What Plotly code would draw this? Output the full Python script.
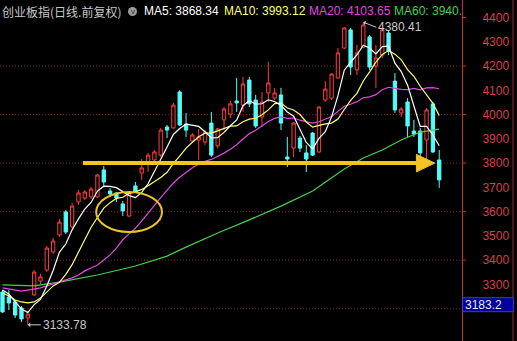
import plotly.graph_objects as go
import pandas as pd

# ---- data ----
opens = [3269, 3248, 3228, 3203, 3162, 3257, 3314, 3360, 3434, 3504,
         3599, 3537, 3640, 3656, 3661, 3661, 3772, 3685, 3677, 3632,
         3582, 3706, 3759, 3805, 3813, 3833, 3949, 3945, 4093, 3961,
         3891, 3895, 3887, 3965, 3871, 3978, 4002, 4056, 4039, 4142,
         4060, 3990, 4089, 4068, 4081, 3825, 3862, 3903, 3842, 3924,
         3846, 4060, 4068, 4151, 4274, 4349, 4184, 4278, 4320, 4200,
         4245, 4336, 4138, 4007, 4052, 3932, 3932, 3895, 4044, 3813]
highs = [3277, 3277, 3236, 3211, 3191, 3360, 3343, 3459, 3492, 3570,
         3607, 3636, 3689, 3689, 3702, 3755, 3788, 3698, 3681, 3644,
         3681, 3722, 3817, 3842, 3854, 3945, 3957, 4048, 4101, 4006,
         3924, 3941, 3936, 4011, 3945, 4031, 4056, 4151, 4155, 4155,
         4081, 4093, 4217, 4110, 4110, 3908, 3969, 3912, 3875, 3928,
         4035, 4138, 4171, 4274, 4361, 4357, 4287, 4380.41, 4328, 4287,
         4357, 4349, 4171, 4031, 4068, 3978, 3945, 4027, 4052, 3854]
lows = [3183, 3195, 3162, 3145, 3133.78, 3253, 3302, 3351, 3426, 3496,
        3508, 3533, 3628, 3648, 3652, 3656, 3702, 3661, 3640, 3582,
        3578, 3677, 3731, 3763, 3792, 3825, 3903, 3941, 3953, 3908,
        3883, 3813, 3875, 3825, 3862, 3936, 3986, 4011, 4011, 4031,
        3945, 3949, 4052, 4060, 3936, 3784, 3825, 3846, 3763, 3829,
        3842, 4052, 4060, 4147, 4270, 4163, 4163, 4274, 4184, 4110,
        4233, 4245, 4007, 3990, 3908, 3908, 3825, 3813, 3842, 3698]
closes = [3187, 3224, 3174, 3158, 3178, 3351, 3331, 3450, 3479, 3557,
          3516, 3623, 3677, 3681, 3693, 3751, 3722, 3673, 3656, 3603,
          3677, 3681, 3780, 3833, 3846, 3936, 3936, 4039, 3957, 3936,
          3916, 3908, 3928, 3833, 3941, 4023, 4044, 4048, 4126, 4044,
          3953, 4052, 4130, 4089, 3965, 3817, 3965, 3862, 3817, 3833,
          4031, 4105, 4167, 4254, 4357, 4196, 4254, 4369, 4196, 4233,
          4349, 4262, 4019, 4023, 3953, 3920, 3842, 4019, 3846, 3731]

# moving-average values before a full window exists
ma5_head = [3277, 3261, 3228, 3199]
ma10_head = [3265, 3253, 3236, 3228, 3224, 3228, 3244, 3269, 3294]
ma20_head = [3286, 3281, 3277, 3273, 3277, 3281, 3286, 3294, 3302, 3310,
             3318, 3327, 3339, 3356, 3368, 3380, 3401, 3422, 3450]
# MA60 read at sample candles
ma60_idx = [0, 5, 9, 15, 21, 26, 29, 34, 39, 44, 49, 54, 57, 60, 63, 66, 69]
ma60_val = [3298, 3294, 3310, 3339, 3376, 3417, 3454, 3512, 3566, 3623,
            3685, 3776, 3821, 3854, 3895, 3928, 3940]

tick_vals = [3300, 3400, 3500, 3600, 3700, 3800, 3900, 4000, 4100, 4200, 4300, 4400]
grid_levels = [3200, 3400, 3600, 3800, 4000, 4200]
mark_levels = [3200, 3400, 3600, 3800, 4000, 4200, 4400]

title_text = "创业板指(日线.前复权)"
ma_labels = ["MA5: 3868.34", "MA10: 3993.12", "MA20: 4103.65", "MA60: 3940."]
high_label = "4380.41"
low_label = "3133.78"
cursor_label = "3183.2"
support_level = 3800

# ---- derived ----
n = len(closes)
idx = list(range(n))
cs = pd.Series(closes, dtype=float)
ma5 = cs.rolling(5).mean().tolist(); ma5[:len(ma5_head)] = ma5_head
ma10 = cs.rolling(10).mean().tolist(); ma10[:len(ma10_head)] = ma10_head
ma20 = cs.rolling(20).mean().tolist(); ma20[:len(ma20_head)] = ma20_head

W, H = 517, 341
PW = 462  # plot width in px
RED = "#c83232"
LBL = "#d84040"
GRID = "#8a2020"

fig = go.Figure()
fig.add_trace(go.Candlestick(
    x=idx, open=opens, high=highs, low=lows, close=closes,
    increasing=dict(line=dict(color="#ff3c3c", width=1), fillcolor="#000000"),
    decreasing=dict(line=dict(color="#54fcfc", width=1), fillcolor="#54fcfc"),
    whiskerwidth=0, hoverinfo="skip", showlegend=False))

for vals, xs, col in [(ma60_val, ma60_idx, "#48d048"), (ma20, idx, "#e048e0"),
                      (ma10, idx, "#ffff78"), (ma5, idx, "#ffffff")]:
    fig.add_trace(go.Scatter(x=xs, y=vals, mode="lines",
                             line=dict(color=col, width=1.2), hoverinfo="skip",
                             showlegend=False))

shapes = []
for lv in grid_levels:
    shapes.append(dict(type="line", xref="paper", yref="y", x0=0, x1=1, y0=lv, y1=lv,
                       line=dict(color=GRID, width=1, dash="1px,2px"), layer="below"))
for lv in mark_levels:
    shapes.append(dict(type="line", xref="paper", yref="y", x0=1, x1=1 + 4 / PW, y0=lv, y1=lv,
                       line=dict(color=RED, width=1)))
# right border
shapes.append(dict(type="line", xref="paper", yref="paper", x0=513 / PW, x1=513 / PW, y0=0, y1=1,
                   line=dict(color="#a02828", width=1)))
# cursor value box
shapes.append(dict(type="rect", xref="paper", yref="paper",
                   x0=462.7 / PW, x1=513.3 / PW, y0=1 - 311.7 / H, y1=1 - 297.7 / H,
                   fillcolor="#00009c", line=dict(color="#3c3cd8", width=1)))
# yellow support arrow
shapes.append(dict(type="line", xref="x", yref="y", x0=12.7, x1=65.6, y0=support_level, y1=support_level,
                   line=dict(color="#f6c422", width=4)))
shapes.append(dict(type="path", xref="x", yref="y",
                   path=f"M 65.4,{support_level + 36} L 68.3,{support_level} L 65.4,{support_level - 36} Z",
                   fillcolor="#f6c422", line=dict(color="#f6c422", width=1)))
# ellipse
shapes.append(dict(type="circle", xref="x", yref="y", x0=14.8, x1=25.2, y0=3516, y1=3681,
                   line=dict(color="#eec22a", width=2)))
# icon circle
shapes.append(dict(type="circle", xref="paper", yref="paper", x0=128 / PW, x1=137 / PW,
                   y0=1 - 16 / H, y1=1 - 7 / H, fillcolor="#9a9a9a", line=dict(width=0)))

annotations = []
ty = 1 - 11.5 / H
annotations.append(dict(xref="paper", yref="paper", x=0 / PW, y=ty, text=title_text,
                        showarrow=False, xanchor="left", yanchor="middle",
                        font=dict(family="Noto Sans CJK SC", size=12, color="#c8c8c8")))
annotations.append(dict(xref="paper", yref="paper", x=132.5 / PW, y=1 - 12 / H, text="v",
                        showarrow=False, xanchor="center", yanchor="middle",
                        font=dict(family="Liberation Sans", size=8, color="#303030")))
for txt, px, col in zip(ma_labels, [142, 222, 307, 392], ["#ffffff", "#ffff78", "#e048e0", "#48d048"]):
    annotations.append(dict(xref="paper", yref="paper", x=px / PW, y=ty, text=txt,
                            showarrow=False, xanchor="left", yanchor="middle",
                            font=dict(family="Liberation Sans", size=12, color=col)))
annotations.append(dict(xref="x", yref="y", x=57, y=max(highs), text=high_label,
                        showarrow=True, ax=13, ay=5, xanchor="left", yanchor="middle",
                        arrowhead=1, arrowsize=0.8, arrowwidth=1, arrowcolor="#c8c8c8", standoff=0,
                        font=dict(family="Liberation Sans", size=12, color="#c8c8c8")))
annotations.append(dict(xref="x", yref="y", x=4, y=min(lows), text=low_label,
                        showarrow=True, ax=13, ay=0, xanchor="left", yanchor="middle",
                        arrowhead=1, arrowsize=0.8, arrowwidth=1, arrowcolor="#c8c8c8", standoff=0,
                        font=dict(family="Liberation Sans", size=12, color="#c8c8c8")))
annotations.append(dict(xref="paper", yref="paper", x=463 / PW, y=1 - 304.7 / H, text=cursor_label,
                        showarrow=False, xanchor="left", yanchor="middle",
                        font=dict(family="Liberation Sans", size=12, color="#e8e8ff")))

fig.update_layout(
    width=W, height=H, margin=dict(l=0, r=W - PW, t=0, b=0),
    paper_bgcolor="#000000", plot_bgcolor="#000000",
    boxgap=0.25, showlegend=False, hovermode=False,
    shapes=shapes, annotations=annotations,
    xaxis=dict(range=[-0.395, 72.6], visible=False, rangeslider=dict(visible=False)),
    yaxis=dict(range=[3067.1, 4472.1], side="right", tickmode="array", tickvals=tick_vals,
               ticktext=[str(v) for v in tick_vals], ticks="", showgrid=False, zeroline=False,
               showline=True, linecolor=RED, linewidth=1, ticklabelstandoff=17,
               tickfont=dict(family="Liberation Sans", size=12, color=LBL)),
)

fig.write_html("out.html")
